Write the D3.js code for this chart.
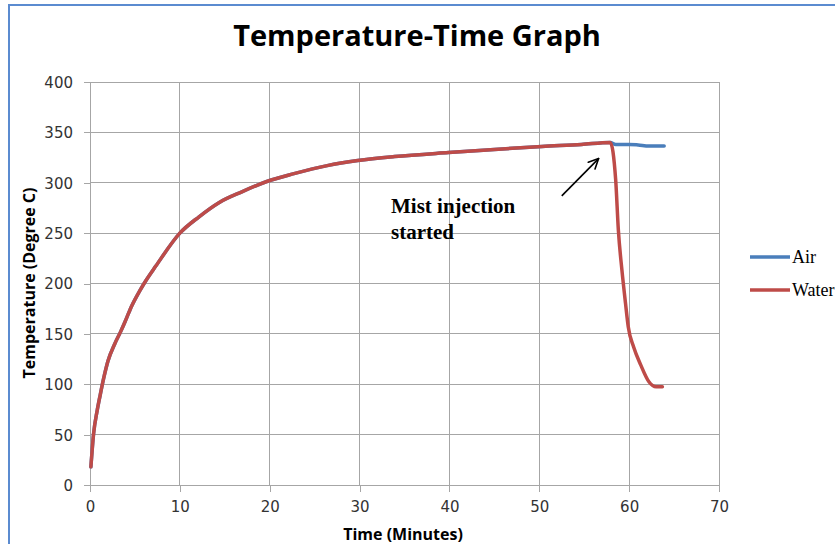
<!DOCTYPE html>
<html>
<head>
<meta charset="utf-8">
<script src="https://cdn.jsdelivr.net/npm/d3@7"></script>
<style>
  html, body { margin: 0; padding: 0; background: #fff; }
  svg { display: block; }
</style>
</head>
<body>
<svg id="chart" width="835" height="544"></svg>
<script>
// ---- data ----
const title = "Temperature-Time Graph";
const xTitle = "Time (Minutes)";
const yTitle = "Temperature (Degree C)";
const xTicks = [0, 10, 20, 30, 40, 50, 60, 70];
const yTicks = [0, 50, 100, 150, 200, 250, 300, 350, 400];
const seriesNames = ["Air", "Water"];

// common heating phase (both series overlap)
const heatTime = [0.1, 0.4, 0.8, 1.15, 1.5, 2.0, 2.75, 3.4, 3.9, 4.6, 5.55, 6.3, 7.3, 10, 12.1, 14.3, 16.9, 19.6, 22.7, 26.4, 29.8, 33.9, 39.9, 45, 50.3, 54.7, 57.9];
const heatTemp = [18, 51, 74, 90, 105, 123, 140, 152, 162, 177, 193, 204, 217, 250, 266, 280, 291, 301, 309, 317, 322, 326, 330, 333, 336, 338, 340];

// after injection
const airTime = [58.5, 60, 61, 62.2, 63.9];
const airTemp = [338, 338, 337.5, 336.5, 336.5];
const waterTime = [58.5, 58.8, 59.2, 59.6, 59.9, 60.5, 61.3, 62.2, 63.0, 63.7];
const waterTemp = [303, 253, 213, 180, 157, 137, 119, 102.5, 97.5, 97.5];

const annotationLines = ["Mist injection", "started"];

// ---- build ----
const zip = (ts, vs) => ts.map((t, i) => ({ t, v: vs[i] }));
const airData = zip(heatTime.concat(airTime), heatTemp.concat(airTemp));
const waterData = zip(heatTime.concat(waterTime), heatTemp.concat(waterTemp));

const svg = d3.select("#chart");
const colors = { Air: "#4a7ebb", Water: "#be4b48" };

// outer frame
svg.append("rect")
  .attr("x", 9).attr("y", 5).attr("width", 900).attr("height", 600)
  .attr("fill", "none").attr("stroke", "#5b8bd0").attr("stroke-width", 2);

const x = d3.scaleLinear().domain([0, 70]).range([90, 719]);
const y = d3.scaleLinear().domain([0, 400]).range([485, 82]);

// gridlines
const grid = svg.append("g");
grid.selectAll("line.v").data(xTicks).enter().append("line")
  .attr("x1", d => x(d)).attr("x2", d => x(d))
  .attr("y1", y(0)).attr("y2", y(400))
  .attr("stroke", "#a6a6a6").attr("stroke-width", 1).attr("shape-rendering", "crispEdges");
grid.selectAll("line.h").data(yTicks).enter().append("line")
  .attr("x1", x(0)).attr("x2", x(70))
  .attr("y1", d => y(d)).attr("y2", d => y(d))
  .attr("stroke", "#a6a6a6").attr("stroke-width", 1).attr("shape-rendering", "crispEdges");

// axes
const xAxis = svg.append("g").attr("transform", `translate(0,${y(0)})`)
  .call(d3.axisBottom(x).tickValues(xTicks).tickSize(7).tickPadding(9));
const yAxis = svg.append("g").attr("transform", `translate(${x(0)},0)`)
  .call(d3.axisLeft(y).tickValues(yTicks).tickSize(6).tickPadding(11));
[xAxis, yAxis].forEach(a => {
  a.select(".domain").attr("stroke", "#a6a6a6").attr("shape-rendering", "crispEdges");
  a.selectAll(".tick line").attr("stroke", "#a6a6a6").attr("shape-rendering", "crispEdges");
  a.selectAll(".tick text").attr("fill", "#333").style("font-family", "'DejaVu Sans', sans-serif").style("font-size", "15px");
});
yAxis.selectAll(".tick text").attr("dy", "0.36em");

// lines
const line = d3.line().x(d => x(d.t)).y(d => y(d.v)).curve(d3.curveMonotoneX);
svg.append("path").datum(airData).attr("d", line)
  .attr("fill", "none").attr("stroke", colors.Air).attr("stroke-width", 3.5)
  .attr("stroke-linejoin", "round").attr("stroke-linecap", "round");
svg.append("path").datum(waterData).attr("d", line)
  .attr("fill", "none").attr("stroke", colors.Water).attr("stroke-width", 3.5)
  .attr("stroke-linejoin", "round").attr("stroke-linecap", "round");

// title
svg.append("text").attr("x", 417).attr("y", 46).attr("text-anchor", "middle")
  .style("font-family", "'Open Sans', sans-serif").style("font-weight", "bold").style("font-size", "29px")
  .attr("fill", "#000").text(title);

// axis titles
svg.append("text").attr("x", 403).attr("y", 540).attr("text-anchor", "middle")
  .style("font-family", "'Open Sans', sans-serif").style("font-weight", "bold").style("font-size", "16px")
  .attr("fill", "#000").text(xTitle);
svg.append("text").attr("transform", "translate(35,283) rotate(-90)").attr("text-anchor", "middle")
  .style("font-family", "'Open Sans', sans-serif").style("font-weight", "bold").style("font-size", "16px")
  .attr("fill", "#000").text(yTitle);

// legend
const legend = svg.append("g");
seriesNames.forEach((name, i) => {
  const ly = 257 + i * 33;
  legend.append("line").attr("x1", 750).attr("x2", 790).attr("y1", ly).attr("y2", ly)
    .attr("stroke", colors[name]).attr("stroke-width", 3.5);
  legend.append("text").attr("x", 792).attr("y", ly + 6)
    .style("font-family", "'Liberation Serif', serif").style("font-size", "18px")
    .attr("fill", "#000").text(name);
});

// annotation
const ann = svg.append("text").attr("x", 391).attr("y", 213)
  .style("font-family", "'Liberation Serif', serif").style("font-weight", "bold").style("font-size", "21px")
  .attr("fill", "#000");
annotationLines.forEach((l, i) => {
  ann.append("tspan").attr("x", 391).attr("dy", i === 0 ? 0 : 26).text(l);
});

// arrow (in data coordinates)
const ax1 = x(52.5), ay1 = y(287), ax2 = x(56.6), ay2 = y(324);
svg.append("line").attr("x1", ax1).attr("y1", ay1).attr("x2", ax2).attr("y2", ay2)
  .attr("stroke", "#000").attr("stroke-width", 1.6);
const ang = Math.atan2(ay2 - ay1, ax2 - ax1);
const hl = 11, ha = Math.PI / 7;
[ang + Math.PI - ha, ang + Math.PI + ha].forEach(a => {
  svg.append("line").attr("x1", ax2).attr("y1", ay2)
    .attr("x2", ax2 + hl * Math.cos(a)).attr("y2", ay2 + hl * Math.sin(a))
    .attr("stroke", "#000").attr("stroke-width", 1.6).attr("stroke-linecap", "round");
});
</script>
</body>
</html>
